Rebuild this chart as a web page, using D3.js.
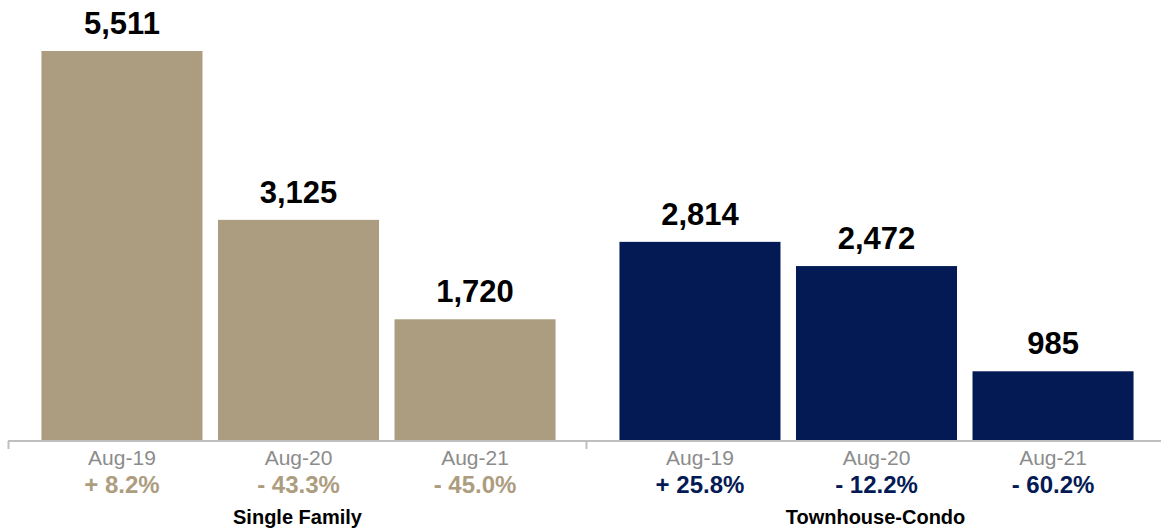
<!DOCTYPE html>
<html>
<head>
<meta charset="utf-8">
<script src="https://cdn.jsdelivr.net/npm/d3@7"></script>
<style>
  html, body { margin: 0; padding: 0; background: #ffffff; }
  svg { display: block; font-family: "Liberation Sans", Arial, Helvetica, sans-serif; }
</style>
</head>
<body>
<svg id="chart" width="1161" height="528"></svg>
<script>
// Property types shown as two bar groups
const groups = ["Single Family", "Townhouse-Condo"];
// Months within each group
const periods = ["Aug-19", "Aug-20", "Aug-21"];
// Counts per month for each property type
const singleFamilyValues = [5511, 3125, 1720];
const townhouseCondoValues = [2814, 2472, 985];
// Year-over-year change labels
const singleFamilyChange = ["+ 8.2%", "- 43.3%", "- 45.0%"];
const townhouseCondoChange = ["+ 25.8%", "- 12.2%", "- 60.2%"];

const groupColors = { "Single Family": "#ad9d80", "Townhouse-Condo": "#041a55" };

const rows = [
  { group: groups[0], values: singleFamilyValues, changes: singleFamilyChange },
  { group: groups[1], values: townhouseCondoValues, changes: townhouseCondoChange }
];

const svg = d3.select("#chart");
const baseY = 441;

const x0 = d3.scaleBand().domain(groups).range([9.5, 1165.5]).padding(0);
const x1 = d3.scaleBand().domain(periods).range([0, x0.bandwidth()])
  .paddingInner(0.0878).paddingOuter(0.181);
const y = d3.scaleLinear().domain([0, 5511]).range([baseY, 51]);

const g = svg.selectAll("g.group").data(rows).join("g")
  .attr("class", "group")
  .attr("transform", d => `translate(${x0(d.group)},0)`);

const cells = g.selectAll("g.cell")
  .data(d => periods.map((p, i) => ({ group: d.group, period: p, value: d.values[i], change: d.changes[i] })))
  .join("g").attr("class", "cell");

cells.append("rect")
  .attr("x", d => x1(d.period))
  .attr("width", x1.bandwidth())
  .attr("y", d => y(d.value))
  .attr("height", d => baseY - y(d.value))
  .attr("fill", d => groupColors[d.group]);

cells.append("text")
  .attr("x", d => x1(d.period) + x1.bandwidth() / 2)
  .attr("y", d => y(d.value) - 17)
  .attr("text-anchor", "middle")
  .attr("font-size", 31)
  .attr("font-weight", "bold")
  .attr("fill", "#000000")
  .text(d => d3.format(",")(d.value));

// Axis line with group separators
const axis = svg.append("g").attr("transform", `translate(0,${baseY})`)
  .call(d3.axisBottom(x0).tickValues([]).tickSizeOuter(0));
axis.select(".domain").remove();
axis.append("line").attr("x1", 8).attr("x2", 1166).attr("y1", 0).attr("y2", 0)
  .attr("stroke", "#bfbfbf").attr("stroke-width", 2);
axis.selectAll("line.sep").data([x0.range()[0], x0(groups[1]), x0.range()[1]]).join("line")
  .attr("class", "sep")
  .attr("x1", d => d - 1).attr("x2", d => d - 1)
  .attr("y1", 0).attr("y2", 8)
  .attr("stroke", "#bfbfbf").attr("stroke-width", 2);

cells.append("text")
  .attr("x", d => x1(d.period) + x1.bandwidth() / 2)
  .attr("y", 465)
  .attr("text-anchor", "middle")
  .attr("font-size", 21)
  .attr("fill", "#8c8c8c")
  .text(d => d.period);

cells.append("text")
  .attr("x", d => x1(d.period) + x1.bandwidth() / 2)
  .attr("y", 493)
  .attr("text-anchor", "middle")
  .attr("font-size", 24)
  .attr("font-weight", "bold")
  .attr("fill", d => groupColors[d.group])
  .text(d => d.change);

g.append("text")
  .attr("x", x0.bandwidth() / 2 - 1)
  .attr("y", 524)
  .attr("text-anchor", "middle")
  .attr("font-size", 20)
  .attr("font-weight", "bold")
  .attr("fill", "#000000")
  .text(d => d.group);
</script>
</body>
</html>
